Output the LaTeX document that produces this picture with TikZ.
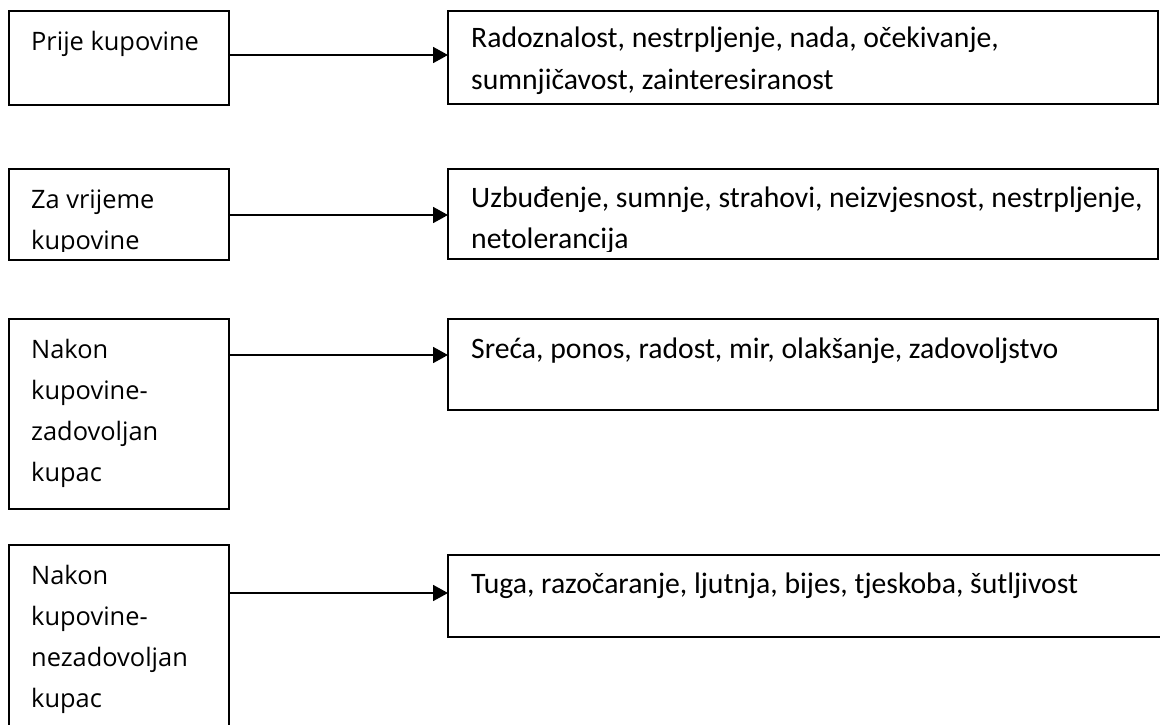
\documentclass[tikz,border=0pt]{standalone}
\usepackage{fontspec}
\newfontfamily\lfont{Open Sans}
\newfontfamily\rfont{Carlito}
\usetikzlibrary{arrows.meta}
\tikzset{
  box/.style={draw=black, line width=1.8pt, rectangle, inner sep=0pt, outer sep=0pt, anchor=north west},
  ltext/.style={anchor=base west, inner sep=0pt, font=\lfont\fontsize{25.4}{30}\selectfont},
  rtext/.style={anchor=base west, inner sep=0pt, font=\rfont\fontsize{29.7}{34}\selectfont},
  conn/.style={line width=1.8pt, -{Triangle[length=15pt,width=16pt]}}
}
\begin{document}
\begin{tikzpicture}[x=1pt,y=-1pt]
\useasboundingbox (0,0) rectangle (1160,724);
\clip (0,0) rectangle (1160,724);
% left boxes
\node[box, minimum width=220pt, minimum height=94pt] (l1) at (9,11) {};
\node[box, minimum width=220pt, minimum height=91pt] (l2) at (9,169) {};
\node[box, minimum width=220pt, minimum height=190pt] (l3) at (9,319) {};
\node[box, minimum width=220pt, minimum height=200pt] (l4) at (9,545) {};
% right boxes
\node[box, minimum width=710pt, minimum height=93pt] (r1) at (448,11) {};
\node[box, minimum width=710pt, minimum height=90pt] (r2) at (448,169) {};
\node[box, minimum width=710pt, minimum height=91pt] (r3) at (448,319) {};
\node[box, minimum width=730pt, minimum height=82pt] (r4) at (448,555) {};
% texts
\node[ltext] (t1) at (31,50) {Prije kupovine};
\begin{scope}
\clip (0,160) rectangle (1160,251);
\node[ltext] (t2a) at (31,208) {Za vrijeme};
\node[ltext] (t2b) at (31,249) {kupovine};
\node[rtext] (s2a) at (471,207) {Uzbuđenje, sumnje, strahovi, neizvjesnost, nestrpljenje,};
\node[rtext] (s2b) at (471,248) {netolerancija};
\end{scope}
\node[ltext] (t3a) at (31,358) {Nakon};
\node[ltext] (t3b) at (31,399) {kupovine-};
\node[ltext] (t3c) at (31,440) {zadovoljan};
\node[ltext] (t3d) at (31,481) {kupac};
\node[ltext] (t4a) at (31,584) {Nakon};
\node[ltext] (t4b) at (31,625) {kupovine-};
\node[ltext] (t4c) at (31,666) {nezadovoljan};
\node[ltext] (t4d) at (31,707) {kupac};
\node[rtext] (s1a) at (471,47) {Radoznalost, nestrpljenje, nada, očekivanje,};
\node[rtext] (s1b) at (471,89) {sumnjičavost, zainteresiranost};
\node[rtext] (s3) at (471,358) {Sreća, ponos, radost, mir, olakšanje, zadovoljstvo};
\node[rtext] (s4) at (471,593) {Tuga, razočaranje, ljutnja, bijes, tjeskoba, šutljivost};
% connectors
\coordinate (y1) at (0,55);
\coordinate (y2) at (0,215);
\coordinate (y3) at (0,355);
\coordinate (y4) at (0,593);
\draw[conn] (l1.east |- y1) -- (r1.west |- y1);
\draw[conn] (l2.east |- y2) -- (r2.west |- y2);
\draw[conn] (l3.east |- y3) -- (r3.west |- y3);
\draw[conn] (l4.east |- y4) -- (r4.west |- y4);
\end{tikzpicture}
\end{document}
